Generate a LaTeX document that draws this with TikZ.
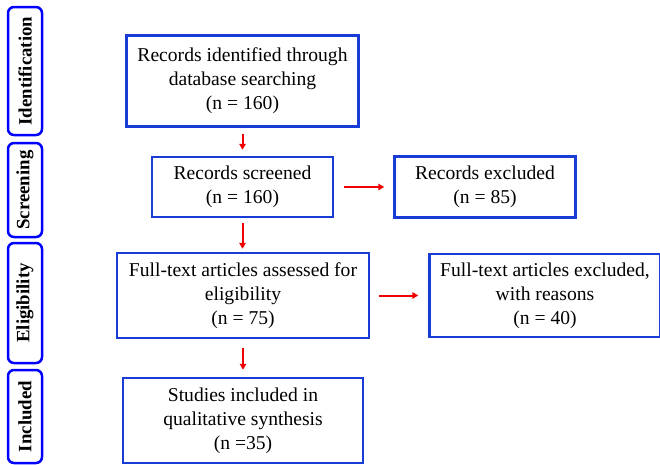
\documentclass[tikz,border=0pt]{standalone}
\usepackage{fontspec}
\setmainfont{Liberation Serif}
\usetikzlibrary{positioning,arrows.meta}

\definecolor{boxblue}{RGB}{25,60,215}
\definecolor{tagblue}{RGB}{0,0,255}
\definecolor{arrred}{RGB}{240,0,0}

\begin{document}
\begin{tikzpicture}[
  x=1pt, y=-1pt,
  font=\fontsize{19.6}{24}\selectfont,
  box/.style={draw=boxblue, line width=2.5pt, align=center, inner sep=0pt},
  tag/.style={draw=tagblue, line width=2.5pt, rounded corners=6pt, rotate=90,
              minimum height=34pt, inner sep=0pt, font=\fontsize{18.8}{22}\selectfont\bfseries},
  arr/.style={-{Triangle[length=6pt,width=6.5pt]}, arrred, line width=2pt},
]
\useasboundingbox (0,0) rectangle (660,464);

% ===== stage tags (left column) =====
\node[tag, minimum width=128pt] (tagId)  at (25,71)    {Identification};
\node[tag, minimum width=94pt]  (tagScr) at (25,190)   {Screening};
\node[tag, minimum width=120pt] (tagEl)  at (25,303)   {Eligibility};
\node[tag, minimum width=93pt]  (tagInc) at (25,416.5) {Included};

% ===== main column =====
\node[box, minimum width=232pt, minimum height=91pt] (ident) at (242.5,81)
  {Records identified through\\database searching\\(n = 160)};
\node[box, minimum width=181pt, minimum height=60pt] (screen) at (242.5,187)
  {Records screened\\(n = 160)};
\node[box, minimum width=252pt, minimum height=85pt] (elig) at (243,295.5)
  {Full-text articles assessed for\\eligibility\\(n = 75)};
\node[box, minimum width=240pt, minimum height=85pt] (incl) at (243,420.5)
  {Studies included in\\qualitative synthesis\\(n =35)};

% ===== exclusions (right column) =====
\node[box, minimum width=181pt, minimum height=61pt, right=59pt of screen] (excl)
  {Records excluded\\(n = 85)};
\node[box, minimum width=231pt, minimum height=83pt, right=58pt of elig] (ftexcl)
  {Full-text articles excluded,\\with reasons\\(n = 40)};

% ===== arrows =====
\draw[arr, shorten <=6pt, shorten >=6pt] (ident.south) -- (ident.south |- screen.north);
\draw[arr, shorten <=5pt, shorten >=3pt] (screen.south) -- (screen.south |- elig.north);
\draw[arr, shorten <=9pt, shorten >=7pt] (elig.south) -- (elig.south |- incl.north);
\draw[arr, shorten <=10pt, shorten >=9pt] (screen.east) -- (excl.west);
\draw[arr, shorten <=9pt, shorten >=10pt] (elig.east) -- (ftexcl.west);
\end{tikzpicture}
\end{document}
